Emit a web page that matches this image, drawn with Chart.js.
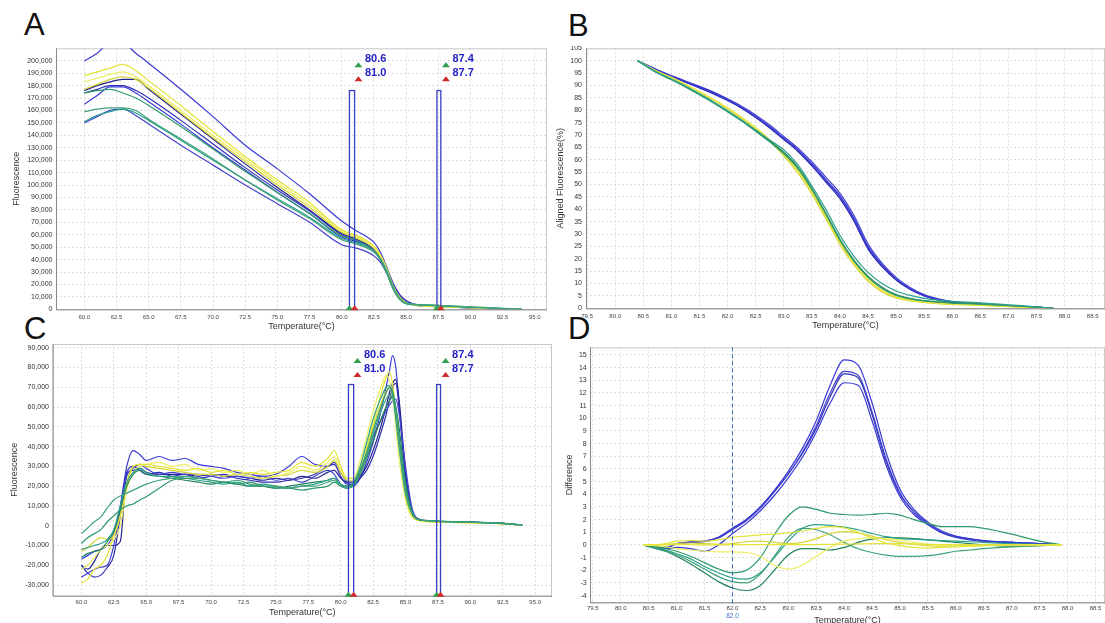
<!DOCTYPE html>
<html>
<head>
<meta charset="utf-8">
<title>Melt curves</title>
<script src="https://cdn.jsdelivr.net/npm/chart.js@4.4.1/dist/chart.umd.min.js"></script>
<style>
    html, body { margin: 0; padding: 0; background: #fff; overflow: hidden; }
    body { width: 1105px; height: 623px; position: relative; font-family: "Liberation Sans", Arial, sans-serif; }
    canvas { position: absolute; }
    .panel-label { position: absolute; font-size: 31px; line-height: 31px; color: #111; }
</style>
</head>
<body>
<div class="panel-label" style="left:24px; top:9px">A</div>
<div class="panel-label" style="left:568px; top:10px">B</div>
<div class="panel-label" style="left:24px; top:313px">C</div>
<div class="panel-label" style="left:568px; top:313px">D</div>

<canvas id="chartA" width="550" height="295" style="left:0; top:40px"></canvas>
<!-- top strip clipped so the 105 label is cut like the original -->
<canvas id="chartB" width="555" height="295" style="left:550px; top:40px; clip-path: inset(6.5px 0 0 0)"></canvas>
<canvas id="chartC" width="555" height="300" style="left:0; top:330px"></canvas>
<canvas id="chartD" width="550" height="300" style="left:555px; top:330px"></canvas>

<script>
// --- Tick labels ---
const xTicksWide = [60, 62.5, 65, 67.5, 70, 72.5, 75, 77.5, 80, 82.5, 85, 87.5, 90, 92.5, 95];
const xTicksNarrow = [79.5, 80, 80.5, 81, 81.5, 82, 82.5, 83, 83.5, 84, 84.5, 85, 85.5, 86, 86.5, 87, 87.5, 88, 88.5];
const yTicksA = [0, 10, 20, 30, 40, 50, 60, 70, 80, 90, 100, 110, 120, 130, 140, 150, 160, 170, 180, 190, 200]; // x1000
const yTicksB = [0, 5, 10, 15, 20, 25, 30, 35, 40, 45, 50, 55, 60, 65, 70, 75, 80, 85, 90, 95, 100, 105];
const yTicksC = [-30, -20, -10, 0, 10, 20, 30, 40, 50, 60, 70, 80, 90]; // x1000
const yTicksD = [-4, -3, -2, -1, 0, 1, 2, 3, 4, 5, 6, 7, 8, 9, 10, 11, 12, 13, 14, 15];

// --- Melt region markers (A and C) and difference reference (D) ---
const markLo = [80.6, 87.4];
const markHi = [81.0, 87.7];
const markTopA = 176;   // x1000
const markTopC = 71.4;  // x1000
const refTempD = 82.0;

// --- Colours ---
const BLUE = '#3a3ad6', BLUE2 = '#4444cc', NAVY = '#23238e', INDIGO = '#3030b4';
const YELLOW = '#e4e43c', YELLOW2 = '#eeee62', YELLOW3 = '#d6d636';
const GREEN = '#2e9a6a', GREEN2 = '#3fa27a', GREEN3 = '#22835a', TEAL = '#2ba08c';

// --- A: raw melt curves (fluorescence x1000) ---
const tempA = [60, 61, 62, 63, 64, 65, 67.5, 70, 72.5, 75, 77.5, 80, 81, 82, 82.5, 83, 83.5, 84, 84.5, 85, 85.5, 86, 87, 88, 90, 92, 94];
const rawA1 = [199.7, 206, 214, 214, 206, 198, 177, 155, 132, 113, 93, 71, 64, 58, 54, 46, 34, 21, 12, 7, 4.5, 3.5, 2.8, 2.2, 1.5, 0.8, 0];
const rawA2 = [188, 191, 194, 197, 192, 184, 164, 143, 123, 104, 86, 64, 60, 55, 51, 44, 33, 19, 10, 5.5, 4, 3.2, 2.6, 2.2, 1.5, 0.7, 0];
const rawA3 = [183, 186, 189, 191, 187, 180, 160, 140, 121, 102, 84, 63, 59, 54, 50, 43, 31, 18, 9, 5, 3.8, 3, 2.4, 2, 1.3, 0.6, 0];
const rawA4 = [177, 181, 185, 187, 185, 178, 158, 138, 119, 100, 82, 62, 58, 53, 49, 42, 30, 17, 8.5, 4.8, 3.6, 2.9, 2.3, 1.9, 1.2, 0.5, 0];
const rawA5 = [176, 180, 183, 185, 185, 177, 157, 137, 117, 98, 80, 61, 57, 52, 48.5, 42, 31, 19, 10, 5.5, 3.8, 3, 2.4, 2, 1.2, 0.6, 0];
const rawA6 = [165, 172, 179, 179, 174, 167, 149, 130, 112, 94, 77, 58, 55, 51, 47, 41, 31, 19, 10, 6, 4, 3, 2.5, 2, 1.2, 0.6, 0];
const rawA7 = [174, 176, 177, 174, 170, 164, 147, 129, 111, 94, 77, 59, 56, 51, 47, 40, 29, 16, 8, 4.5, 3.8, 3.5, 3.2, 2.8, 1.8, 0.8, 0];
const rawA8 = [159, 161, 162, 162, 160, 153, 137, 121, 104, 88, 73, 56, 53, 49, 46, 40, 30, 17, 8, 4.5, 4, 3.8, 3.5, 3, 2, 1, 0];
const rawA9 = [150, 155, 160, 161, 156, 149, 132, 116, 100, 85, 70, 52, 49.5, 46, 43, 38, 29, 18, 10, 6, 4, 3, 2.4, 2, 1.3, 0.6, 0];
const rawA10 = [151, 156, 159, 161, 158, 152, 136, 120, 104, 89, 74, 57, 54, 50, 47, 41, 31, 18, 9, 5, 4.2, 3.6, 3, 2.5, 1.6, 0.8, 0];
const rawA11 = [174, 177, 180, 180, 176, 170, 152, 133, 114, 96, 79, 60, 56, 52, 48, 42, 32, 20, 11, 6.5, 4.5, 3.3, 2.6, 2.1, 1.3, 0.6, 0];

// --- B: aligned melt curves (%) ---
const tempB = [80.4, 80.75, 81, 81.25, 81.5, 81.75, 82, 82.25, 82.5, 82.75, 83, 83.25, 83.5, 83.75, 84, 84.25, 84.5, 84.75, 85, 85.25, 85.5, 85.75, 86, 86.5, 87, 87.5, 87.8];
const alnB1 = [100, 96.2, 93.8, 91.6, 89.4, 87, 84.3, 81.2, 77.6, 73.4, 68.8, 64.2, 58.4, 52, 45.5, 36.5, 25, 17.5, 12, 8, 5.2, 3.6, 2.6, 1.6, 1, 0.5, 0];
const alnB2 = [100, 96.0, 93.5, 91.3, 89.0, 86.6, 83.9, 80.8, 77.0, 72.8, 68.2, 63.4, 57.5, 51, 44.3, 35.2, 24, 16.8, 11.4, 7.6, 5, 3.4, 2.5, 1.5, 0.9, 0.4, 0];
const alnB3 = [100, 96.3, 94, 91.8, 89.6, 87.3, 84.6, 81.6, 78.1, 74, 69.4, 64.8, 59.2, 53, 46.5, 37.6, 26, 18.2, 12.5, 8.4, 5.5, 3.8, 2.7, 1.7, 1, 0.5, 0];
const alnB4 = [100, 96.1, 93.6, 91.4, 89.2, 86.8, 84.1, 81, 77.3, 73.1, 68.5, 63.8, 58, 51.5, 45, 36, 24.6, 17.2, 11.7, 7.8, 5.1, 3.5, 2.5, 1.6, 1, 0.45, 0];
const alnB5 = [100, 95.2, 92.6, 89.8, 86.6, 83.3, 79.8, 76, 72, 68, 64, 58, 49.5, 40, 29.5, 21, 14.5, 10, 7, 5.2, 4, 3.3, 2.8, 2.2, 1.4, 0.6, 0];
const alnB6 = [100, 95, 92.3, 89.4, 86.2, 82.9, 79.4, 75.6, 71.5, 67.2, 62.5, 56.5, 48, 38, 27.5, 19, 12.5, 8, 5.2, 3.8, 3, 2.5, 2.1, 1.7, 1.1, 0.5, 0];
const alnB7 = [100, 95.1, 92.5, 89.6, 86.4, 83.1, 79.6, 75.8, 71.7, 67.5, 63, 57, 48.5, 38.5, 28, 19.5, 13, 8.5, 5.5, 4, 3.1, 2.6, 2.2, 1.8, 1.2, 0.5, 0];
const alnB8 = [100, 95.6, 93.2, 90.5, 87.4, 84.2, 80.8, 77, 72.8, 68, 62.2, 55.5, 47, 37, 26.5, 18, 11.5, 7, 4.5, 3.2, 2.5, 2, 1.7, 1.3, 0.8, 0.3, 0];
const alnB9 = [100, 95.7, 93.3, 90.6, 87.5, 84.4, 81, 77.3, 73, 68.2, 62.5, 55.8, 47.5, 37.5, 27, 18.5, 12, 7.4, 4.7, 3.3, 2.6, 2.1, 1.8, 1.3, 0.8, 0.3, 0];
const alnB10 = [100, 95.5, 93, 90.3, 87.2, 84, 80.5, 76.6, 72.3, 67.5, 61.6, 54.8, 46.2, 36.2, 25.8, 17.5, 11, 6.6, 4.2, 3, 2.4, 1.9, 1.6, 1.2, 0.7, 0.3, 0];

// --- C: derivative curves (x1000) ---
const tempC = [60, 60.5, 61, 61.5, 62, 62.5, 63, 63.5, 64, 64.5, 65, 66, 67, 68, 69, 70, 71, 72, 73, 74, 75, 76, 77, 78, 79, 79.5, 80, 80.5, 81, 81.5, 82, 82.5, 83, 83.5, 83.75, 84, 84.25, 84.5, 85, 85.5, 86, 87, 88, 90, 92, 94];
const derC1 = [-17, -15, -13, -12, -10, -4, 10, 30, 38, 36, 33, 35, 33, 34, 31, 30, 29, 27, 26, 25, 26, 30, 35, 31, 30, 32, 27, 22, 20, 24, 32, 42, 55, 70, 78, 86, 80, 62, 24, 6, 3, 2.5, 2, 1.8, 1.5, 0.3];
const derC2 = [-20, -22, -18, -12, -10, -10, -8, 26, 28, 29, 27, 26, 26, 26, 25, 26, 25, 25, 24, 23, 24, 23, 25, 24, 27, 28, 24, 22, 22, 25, 30, 38, 48, 60, 67, 72, 74, 64, 28, 7, 3, 2.2, 2, 1.8, 1.4, 0.3];
const derC3 = [-20, -24, -26, -25, -21, -15, 5, 27, 30, 28, 26, 27, 25, 26, 24, 25, 26, 24, 23, 22, 22, 23, 24, 26, 30, 31, 25, 21, 21, 24, 28, 35, 45, 56, 63, 70, 72, 60, 26, 8, 3.5, 2.3, 2, 1.8, 1.4, 0.3];
const derC4 = [-26, -24, -22, -21, -20, -10, 8, 25, 29, 31, 29, 26, 27, 26, 26, 25, 24, 25, 24, 25, 23, 24, 22, 25, 28, 26, 21, 19, 21, 27, 35, 45, 52, 58, 61, 63, 64, 57, 30, 9, 3, 2.2, 2, 1.7, 1.3, 0.3];
const derC5 = [-29, -27, -22, -20, -15, -5, 5, 20, 30, 31, 31, 30, 29, 28, 29, 27, 28, 26, 27, 26, 27, 28, 32, 30, 34, 38, 30, 24, 24, 30, 40, 52, 64, 75, 78, 72, 58, 42, 16, 5, 2.8, 2, 1.8, 1.5, 1.2, 0.3];
const derC6 = [-22, -20, -16, -12, -10, -7, 0, 18, 27, 30, 31, 32, 30, 31, 28, 29, 27, 28, 26, 28, 25, 27, 30, 28, 32, 35, 28, 24, 24, 33, 45, 58, 68, 76, 74, 66, 50, 34, 13, 4.5, 2.6, 2, 1.8, 1.5, 1.2, 0.3];
const derC7 = [-13, -11, -8, -6, -7, -5, 5, 22, 30, 31, 30, 29, 28, 27, 26, 26, 25, 26, 25, 24, 25, 26, 28, 27, 30, 33, 27, 23, 23, 28, 38, 50, 60, 68, 70, 66, 55, 40, 15, 5, 2.8, 2, 1.8, 1.5, 1.2, 0.3];
const derC8 = [-4, -1, 2, 4.5, 9, 13, 15, 16.5, 18, 19.5, 21, 23, 24, 25, 24, 23, 22, 23, 21, 20, 20, 19, 20, 20, 22, 23, 20, 19, 20, 26, 35, 46, 56, 64, 66, 65, 58, 44, 18, 6, 3, 2.5, 2.2, 1.8, 1.4, 0.4];
const derC9 = [-9, -6, -4, -2, 2, 5, 8, 10, 11, 13, 14.6, 19, 23, 24, 24, 23, 22, 21, 22, 20, 19, 19, 18, 19, 20, 22, 20, 19, 21, 28, 37, 48, 58, 67, 70, 68, 60, 46, 20, 7, 3.2, 2.6, 2.2, 1.8, 1.4, 0.4];
const derC10 = [-12, -11, -10, -9, -7, -2, 10, 22, 27, 29, 27, 25, 25, 24, 23, 22, 21, 22, 20, 21, 20, 19, 20, 21, 23, 24, 21, 20, 22, 30, 42, 54, 63, 70, 71, 66, 54, 40, 16, 6, 3, 2.4, 2.1, 1.7, 1.3, 0.4];
const derC11 = [-16, -14, -13, -12, -8, -3, 8, 20, 26, 28, 26, 25, 24, 23, 22, 21, 22, 21, 20, 20, 19, 20, 21, 22, 23, 24, 21, 20, 21, 26, 34, 43, 52, 60, 63, 65, 60, 50, 22, 7, 3, 2.4, 2, 1.7, 1.3, 0.4];

// --- D: difference curves ---
const tempD = [80.4, 80.6, 80.8, 81, 81.25, 81.5, 81.75, 82, 82.25, 82.5, 82.75, 83, 83.25, 83.5, 83.75, 84, 84.25, 84.5, 84.75, 85, 85.25, 85.5, 85.75, 86, 86.25, 86.5, 87, 87.5, 87.9];
const difD1 = [0, -0.15, -0.2, 0.1, 0.2, 0.3, 0.6, 1.3, 2.0, 3.0, 4.3, 5.8, 7.6, 9.8, 12.6, 14.6, 14.2, 11.2, 7.3, 4.4, 2.8, 1.8, 1.1, 0.7, 0.5, 0.35, 0.2, 0.1, 0];
const difD2 = [0, -0.15, -0.25, 0.05, 0.2, 0.25, 0.55, 1.2, 1.9, 2.9, 4.2, 5.6, 7.3, 9.4, 12.0, 13.7, 13.4, 10.5, 6.8, 4.1, 2.6, 1.7, 1.0, 0.65, 0.45, 0.3, 0.2, 0.1, 0];
const difD3 = [0, -0.1, -0.2, 0.1, 0.25, 0.3, 0.6, 1.3, 2.0, 3.0, 4.2, 5.6, 7.2, 9.2, 11.7, 13.5, 13.2, 10.3, 6.6, 4.0, 2.6, 1.7, 1.0, 0.65, 0.45, 0.3, 0.2, 0.1, 0];
const difD4 = [0, -0.2, -0.3, -0.2, -0.3, -0.5, 0.0, 0.9, 1.7, 2.7, 3.9, 5.3, 6.9, 8.9, 11.2, 12.8, 12.6, 9.8, 6.3, 3.8, 2.4, 1.6, 0.95, 0.6, 0.4, 0.3, 0.2, 0.1, 0];
const difD5 = [0, -0.1, -0.3, -0.5, -0.9, -1.4, -1.9, -2.2, -2.0, -1.0, 0.8, 2.3, 3.0, 2.8, 2.5, 2.4, 2.35, 2.4, 2.5, 2.35, 2.0, 1.7, 1.45, 1.45, 1.45, 1.3, 0.85, 0.3, 0];
const difD6 = [0, -0.2, -0.4, -0.7, -1.1, -1.7, -2.2, -2.6, -2.7, -2.2, -1.0, 0.3, 1.3, 1.6, 1.55, 1.4, 1.2, 0.9, 0.65, 0.5, 0.45, 0.4, 0.35, 0.3, 0.25, 0.2, 0.1, 0.05, 0];
const difD7 = [0, -0.2, -0.45, -0.8, -1.3, -1.9, -2.5, -2.9, -3.0, -2.3, -0.9, 0.6, 1.3, 1.2, 0.8, 0.2, -0.3, -0.6, -0.8, -0.9, -0.9, -0.85, -0.7, -0.5, -0.4, -0.3, -0.15, -0.05, 0];
const difD8 = [0, -0.25, -0.5, -0.9, -1.5, -2.2, -2.9, -3.4, -3.6, -3.2, -2.0, -0.8, -0.3, -0.3, -0.4, -0.2, 0.2, 0.45, 0.55, 0.55, 0.5, 0.4, 0.3, 0.2, 0.1, 0, -0.1, -0.05, 0];
const difD9 = [0, 0, 0.1, 0.3, 0.35, 0.3, 0.4, 0.6, 0.7, 0.8, 0.85, 0.95, 1.1, 1.3, 1.45, 1.35, 1.0, 0.55, 0.15, -0.05, -0.2, -0.25, -0.2, -0.15, -0.1, -0.05, 0, 0, 0];
const difD10 = [0, -0.05, -0.15, -0.3, -0.4, -0.5, -0.55, -0.55, -0.6, -0.9, -1.6, -1.9, -1.6, -0.9, -0.2, 0.3, 0.5, 0.55, 0.5, 0.4, 0.2, 0.05, -0.05, -0.1, -0.1, -0.05, 0, 0, 0];
const difD11 = [0, 0, 0.05, 0.1, 0.15, 0.1, 0.05, 0.1, 0.25, 0.3, 0.2, 0.1, 0.2, 0.5, 0.9, 1.05, 0.95, 0.7, 0.4, 0.2, 0.05, -0.05, -0.1, -0.1, -0.05, 0, 0, 0, 0];
const difD12 = [0, 0, 0, 0.02, 0.02, 0, 0, 0.02, 0.02, 0.03, 0.03, 0.02, 0.02, 0.03, 0.05, 0.06, 0.08, 0.1, 0.1, 0.1, 0.08, 0.05, 0.03, 0.02, 0.02, 0.01, 0, 0, 0];

// --- Helpers ---
function series(temps, values, color) {
    return {
        data: temps.map((t, i) => ({ x: t, y: values[i] })),
        borderColor: color,
        borderWidth: 1.2,
        pointRadius: 0,
        cubicInterpolationMode: 'monotone',
        fill: false
    };
}

function triangle(ctx, cx, baseY, color) {
    ctx.beginPath();
    ctx.moveTo(cx - 4, baseY);
    ctx.lineTo(cx + 4, baseY);
    ctx.lineTo(cx, baseY - 5);
    ctx.closePath();
    ctx.fillStyle = color;
    ctx.fill();
}

// Plot frame, melt markers and the reference line are drawn by one small plugin
const overlays = {
    id: 'overlays',
    beforeDatasetsDraw(chart) {
        const { ctx, chartArea: a } = chart;
        ctx.save();
        ctx.strokeStyle = '#c8c8c8';
        ctx.lineWidth = 1;
        ctx.strokeRect(a.left + 0.5, a.top + 0.5, a.right - a.left - 1, a.bottom - a.top);
        ctx.strokeStyle = '#8a8a8a';
        ctx.beginPath();
        ctx.moveTo(a.left + 0.5, a.top);
        ctx.lineTo(a.left + 0.5, a.bottom + 0.5);
        ctx.lineTo(a.right, a.bottom + 0.5);
        ctx.stroke();
        ctx.restore();
    },
    afterDatasetsDraw(chart, args, opts) {
        const { ctx, chartArea: a, scales: { x, y } } = chart;
        ctx.save();
        if (opts.markTop !== undefined) {
            markLo.forEach((lo, i) => {
                const hi = markHi[i];
                const x0 = x.getPixelForValue(lo);
                const x1 = x.getPixelForValue(hi);
                const yt = y.getPixelForValue(opts.markTop);
                ctx.strokeStyle = '#3340c0';
                ctx.lineWidth = 1.3;
                ctx.strokeRect(x0, yt, x1 - x0, a.bottom - yt);
                triangle(ctx, x0 + 9, a.top + 19, '#35a04c');
                triangle(ctx, x0 + 9, a.top + 33, '#cf2b2b');
                ctx.fillStyle = '#2424c8';
                ctx.font = 'bold 11px "Liberation Sans", Arial, sans-serif';
                ctx.textAlign = 'left';
                ctx.textBaseline = 'middle';
                ctx.fillText(lo.toFixed(1), x0 + 15.5, a.top + 11);
                ctx.fillText(hi.toFixed(1), x0 + 15.5, a.top + 25);
                triangle(ctx, x0, a.bottom + 1, '#35a04c');
                triangle(ctx, x1, a.bottom + 1, '#cf2b2b');
            });
        }
        if (opts.refTemp !== undefined) {
            const xr = Math.round(x.getPixelForValue(opts.refTemp)) + 0.5;
            ctx.strokeStyle = '#3b6fc9';
            ctx.lineWidth = 1;
            ctx.setLineDash([4, 3]);
            ctx.beginPath();
            ctx.moveTo(xr, a.top);
            ctx.lineTo(xr, a.bottom + 2);
            ctx.stroke();
            ctx.setLineDash([]);
            ctx.fillStyle = '#3b6fc9';
            ctx.font = '6.5px "Liberation Sans", Arial, sans-serif';
            ctx.textAlign = 'center';
            ctx.textBaseline = 'middle';
            ctx.fillText(opts.refTemp.toFixed(1), xr, a.bottom + 13.5);
        }
        ctx.restore();
    }
};

function buildChart(id, g) {
    const ctx = document.getElementById(id).getContext('2d');
    return new Chart(ctx, {
        type: 'line',
        data: { datasets: g.datasets },
        plugins: [overlays],
        options: {
            responsive: false,
            animation: false,
            layout: { autoPadding: false, padding: { left: 0, top: g.padTop, right: g.padRight, bottom: 0 } },
            plugins: {
                legend: { display: false },
                tooltip: { enabled: false },
                overlays: g.overlay || {}
            },
            scales: {
                x: {
                    type: 'linear',
                    min: g.xMin,
                    max: g.xMax,
                    afterBuildTicks: axis => { axis.ticks = g.xTicks.map(v => ({ value: v })); },
                    afterFit: axis => { axis.height = g.xHeight; },
                    ticks: {
                        maxRotation: 0,
                        autoSkip: false,
                        padding: g.xTickPad,
                        color: '#444',
                        font: { family: '"Liberation Sans", Arial, sans-serif', size: 6 },
                        callback: v => v.toFixed(1)
                    },
                    grid: { color: '#dedede', drawTicks: false },
                    border: { display: false, dash: [2, 2] },
                    title: {
                        display: true,
                        text: 'Temperature(°C)',
                        color: '#333',
                        padding: { top: 0, bottom: g.xTitlePad },
                        font: { family: '"Liberation Sans", Arial, sans-serif', size: 9 }
                    }
                },
                y: {
                    min: g.yMin,
                    max: g.yMax,
                    afterBuildTicks: axis => { axis.ticks = g.yTicks.map(v => ({ value: v })); },
                    afterFit: axis => { axis.width = g.yWidth; },
                    ticks: {
                        autoSkip: false,
                        padding: g.yTickPad,
                        color: '#333',
                        font: { family: '"Liberation Sans", Arial, sans-serif', size: 7 },
                        callback: g.yLabel
                    },
                    grid: { color: '#dedede', drawTicks: false },
                    border: { display: false, dash: [2, 2] },
                    title: {
                        display: true,
                        text: g.yTitle,
                        color: '#333',
                        padding: { top: g.yTitlePad, bottom: 0 },
                        font: { family: '"Liberation Sans", Arial, sans-serif', size: 9 }
                    }
                }
            }
        }
    });
}

const thousands = v => (v * 1000).toLocaleString('en-US');

// --- Panel A ---
buildChart('chartA', {
    datasets: [
        series(tempA, rawA8, GREEN2), series(tempA, rawA10, TEAL), series(tempA, rawA7, GREEN),
        series(tempA, rawA2, YELLOW), series(tempA, rawA3, YELLOW2), series(tempA, rawA4, YELLOW3),
        series(tempA, rawA9, BLUE2), series(tempA, rawA6, BLUE), series(tempA, rawA11, INDIGO),
        series(tempA, rawA5, NAVY), series(tempA, rawA1, BLUE)
    ],
    xMin: 57.8, xMax: 95.95, xTicks: xTicksWide,
    yMin: 0, yMax: 210, yTicks: yTicksA, yLabel: thousands,
    padTop: 8.3, padRight: 3, xHeight: 25.7, yWidth: 56,
    xTickPad: 4, yTickPad: 3.5, xTitlePad: 3.5, yTitlePad: 11.5,
    yTitle: 'Fluorescence',
    overlay: { markTop: markTopA }
});

// --- Panel B ---
buildChart('chartB', {
    datasets: [
        series(tempB, alnB5, TEAL), series(tempB, alnB6, GREEN), series(tempB, alnB7, GREEN3),
        series(tempB, alnB8, YELLOW), series(tempB, alnB9, YELLOW2), series(tempB, alnB10, YELLOW3),
        series(tempB, alnB1, BLUE), series(tempB, alnB2, INDIGO), series(tempB, alnB3, BLUE2), series(tempB, alnB4, BLUE)
    ],
    xMin: 79.48, xMax: 88.72, xTicks: xTicksNarrow,
    yMin: 0, yMax: 105, yTicks: yTicksB, yLabel: v => v,
    padTop: 8.3, padRight: 0, xHeight: 26.7, yWidth: 36,
    xTickPad: 4, yTickPad: 4, xTitlePad: 4, yTitlePad: 5,
    yTitle: 'Aligned Fluorescence(%)'
});

// --- Panel C ---
buildChart('chartC', {
    datasets: [
        series(tempC, derC8, GREEN2), series(tempC, derC9, GREEN), series(tempC, derC10, TEAL), series(tempC, derC11, GREEN3),
        series(tempC, derC5, YELLOW), series(tempC, derC6, YELLOW2), series(tempC, derC7, YELLOW3),
        series(tempC, derC4, BLUE2), series(tempC, derC3, INDIGO), series(tempC, derC2, NAVY), series(tempC, derC1, BLUE)
    ],
    xMin: 57.78, xMax: 96.3, xTicks: xTicksWide,
    yMin: -35.4, yMax: 91.9, yTicks: yTicksC, yLabel: thousands,
    padTop: 14, padRight: 3, xHeight: 34.3, yWidth: 52.6,
    xTickPad: 3.5, yTickPad: 3.6, xTitlePad: 11.6, yTitlePad: 9,
    yTitle: 'Fluorescence',
    overlay: { markTop: markTopC }
});

// --- Panel D ---
buildChart('chartD', {
    datasets: [
        series(tempD, difD12, YELLOW), series(tempD, difD9, YELLOW), series(tempD, difD10, YELLOW2), series(tempD, difD11, YELLOW3),
        series(tempD, difD5, GREEN), series(tempD, difD6, TEAL), series(tempD, difD7, GREEN2), series(tempD, difD8, GREEN3),
        series(tempD, difD1, BLUE), series(tempD, difD2, BLUE2), series(tempD, difD3, INDIGO), series(tempD, difD4, BLUE)
    ],
    xMin: 79.45, xMax: 88.67, xTicks: xTicksNarrow,
    yMin: -4.53, yMax: 15.6, yTicks: yTicksD, yLabel: v => v,
    padTop: 17.3, padRight: 0, xHeight: 27.7, yWidth: 35,
    xTickPad: 2.5, yTickPad: 3.3, xTitlePad: 4.3, yTitlePad: 8.8,
    yTitle: 'Difference',
    overlay: { refTemp: refTempD }
});
</script>
</body>
</html>
